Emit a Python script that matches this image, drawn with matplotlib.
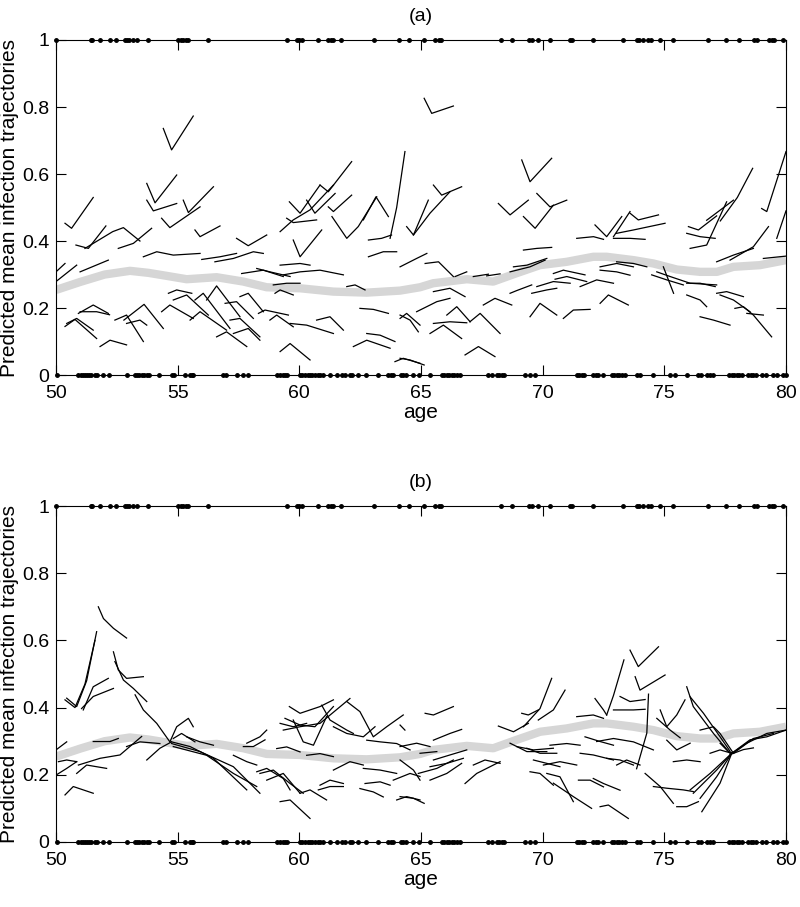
import matplotlib
matplotlib.use("Agg")
import matplotlib.pyplot as plt

plt.rcParams['font.family'] = ['Liberation Sans Narrow', 'Liberation Sans', 'DejaVu Sans']

# observed infection status (ages of 0 and 1 responses)
ages_one = [50.0, 51.42, 51.5, 51.81, 52.22, 52.47, 52.84, 52.93, 53.01, 53.15, 53.34, 53.79,
            55.03, 55.13, 55.23, 55.33, 55.42, 56.26, 59.5, 59.89, 60.0, 60.1, 60.78, 61.19,
            61.29, 61.4, 61.71, 63.07, 64.11, 64.52, 65.14, 65.58, 65.72, 65.83, 68.29, 68.73,
            69.44, 69.55, 69.82, 70.3, 71.13, 71.22, 72.08, 73.32, 73.86, 73.96, 74.14, 74.34,
            74.45, 74.81, 75.37, 76.78, 77.52, 78.07, 78.7, 78.8, 79.3, 79.41, 79.52, 79.89]
ages_zero = [50.05, 50.92, 51.01, 51.1, 51.18, 51.26, 51.34, 51.42, 51.6, 51.67, 51.92, 52.19,
             52.93, 53.25, 53.34, 53.42, 53.52, 53.62, 53.73, 53.84, 54.25, 54.75, 54.85, 55.3,
             55.5, 55.58, 55.64, 56.88, 56.99, 57.43, 57.67, 57.9, 59.1, 59.2, 59.32, 59.41,
             59.5, 60.03, 60.12, 60.23, 60.34, 60.44, 60.53, 60.64, 60.75, 60.85, 60.99, 61.26,
             61.53, 61.74, 61.88, 62.08, 62.18, 62.42, 62.73, 63.25, 63.66, 63.77, 63.86, 64.18,
             64.27, 64.37, 64.69, 64.92, 65.37, 65.85, 65.96, 66.06, 66.15, 66.26, 66.37, 66.47,
             66.6, 67.77, 67.91, 68.11, 68.21, 68.32, 68.41, 69.27, 69.48, 69.69, 71.4, 71.51,
             71.61, 71.7, 72.08, 72.19, 72.29, 72.47, 72.84, 72.93, 73.04, 73.15, 73.25, 73.38,
             73.86, 74.0, 74.55, 75.23, 75.44, 75.92, 76.4, 76.5, 76.77, 76.88, 76.99, 77.67,
             77.77, 77.87, 77.98, 78.08, 78.18, 78.45, 78.55, 78.66, 78.76, 79.0, 79.18, 79.48,
             79.65, 79.89, 80.0]

# population mean curve
mean_age = [50.0, 51.0, 52.0, 53.04, 53.8, 54.55, 55.37, 56.6, 57.7, 58.66, 60.03, 61.4, 62.77,
            64.14, 64.96, 65.5, 66.88, 67.97, 68.93, 69.89, 70.99, 72.08, 72.63, 73.73, 74.55,
            75.51, 76.47, 77.16, 77.84, 78.93, 80.0]
mean_val = [0.254, 0.278, 0.300, 0.311, 0.305, 0.296, 0.286, 0.292, 0.279, 0.262, 0.259, 0.249,
            0.246, 0.252, 0.262, 0.274, 0.286, 0.279, 0.304, 0.328, 0.338, 0.353, 0.353, 0.343,
            0.333, 0.315, 0.308, 0.308, 0.323, 0.328, 0.343]

# subject-specific predicted trajectories, panel (a)
traj_a = [
    [(54.41, 0.736), (54.75, 0.672), (55.64, 0.773)],
    [(50.37, 0.453), (50.64, 0.438), (51.53, 0.530)],
    [(53.73, 0.572), (54.07, 0.514), (54.96, 0.597)],
    [(53.73, 0.522), (54.00, 0.490), (54.96, 0.512)],
    [(54.34, 0.468), (54.68, 0.440), (55.92, 0.502)],
    [(55.23, 0.522), (55.44, 0.485), (56.47, 0.562)],
    [(55.71, 0.433), (55.92, 0.413), (56.74, 0.445)],
    [(50.82, 0.388), (51.33, 0.378), (52.05, 0.445)],
    [(51.19, 0.378), (52.33, 0.428), (52.77, 0.440), (53.45, 0.400)],
    [(52.56, 0.378), (53.18, 0.393), (53.93, 0.438)],
    [(53.59, 0.353), (54.14, 0.368), (54.82, 0.358), (55.92, 0.363)],
    [(50.99, 0.308), (52.15, 0.343)],
    [(50.00, 0.279), (50.85, 0.328)],
    [(50.00, 0.308), (50.37, 0.333)],
    [(55.99, 0.345), (56.74, 0.353), (57.42, 0.363)],
    [(56.53, 0.338), (57.29, 0.348), (58.11, 0.368), (58.52, 0.363)],
    [(57.42, 0.408), (57.90, 0.386), (58.66, 0.418)],
    [(57.63, 0.303), (58.52, 0.313), (59.34, 0.294)],
    [(58.25, 0.318), (58.79, 0.308), (59.62, 0.294)],
    [(59.21, 0.328), (60.03, 0.333), (60.44, 0.328)],
    [(59.34, 0.299), (60.03, 0.308), (60.85, 0.313), (61.81, 0.299)],
    [(59.59, 0.517), (60.03, 0.483), (60.85, 0.567)],
    [(59.48, 0.468), (59.75, 0.455), (60.71, 0.463)],
    [(59.21, 0.428), (59.75, 0.463), (60.44, 0.493), (61.40, 0.567)],
    [(59.75, 0.403), (60.03, 0.353), (60.92, 0.433)],
    [(60.30, 0.522), (60.64, 0.483), (61.47, 0.542)],
    [(60.85, 0.567), (61.19, 0.547), (62.15, 0.637)],
    [(61.19, 0.502), (61.40, 0.488), (62.15, 0.537)],
    [(61.34, 0.473), (61.95, 0.408), (62.42, 0.443), (63.18, 0.532)],
    [(62.63, 0.463), (63.15, 0.532), (63.66, 0.473)],
    [(63.73, 0.408), (64.00, 0.500), (64.34, 0.667)],
    [(62.84, 0.403), (63.38, 0.408), (63.79, 0.418)],
    [(62.84, 0.353), (63.45, 0.368), (64.00, 0.368)],
    [(50.37, 0.145), (50.78, 0.166), (51.67, 0.109)],
    [(50.44, 0.154), (50.85, 0.169), (51.53, 0.134)],
    [(50.92, 0.184), (51.53, 0.209), (52.15, 0.184)],
    [(50.99, 0.189), (51.67, 0.189), (52.20, 0.180)],
    [(51.81, 0.085), (52.22, 0.104), (52.90, 0.090)],
    [(52.42, 0.164), (52.90, 0.179), (53.59, 0.100)],
    [(52.90, 0.154), (53.45, 0.164), (53.73, 0.149)],
    [(52.79, 0.164), (53.62, 0.211), (54.41, 0.139)],
    [(54.34, 0.189), (54.68, 0.209), (55.64, 0.169)],
    [(54.62, 0.244), (54.96, 0.254), (55.58, 0.244)],
    [(54.82, 0.224), (55.37, 0.239), (56.26, 0.179)],
    [(55.51, 0.164), (55.92, 0.189), (57.01, 0.134)],
    [(55.71, 0.224), (56.05, 0.244), (57.15, 0.139)],
    [(56.19, 0.224), (56.60, 0.266), (57.56, 0.174)],
    [(56.60, 0.114), (57.01, 0.129), (57.84, 0.085)],
    [(56.95, 0.214), (57.42, 0.219), (58.11, 0.169)],
    [(57.15, 0.164), (57.56, 0.169), (58.38, 0.114)],
    [(57.29, 0.124), (57.90, 0.139), (58.38, 0.104)],
    [(57.56, 0.234), (57.90, 0.244), (58.52, 0.189)],
    [(58.32, 0.184), (58.59, 0.194), (59.55, 0.179)],
    [(58.79, 0.164), (59.07, 0.179), (59.75, 0.144)],
    [(59.21, 0.070), (59.62, 0.094), (60.44, 0.045)],
    [(59.00, 0.244), (59.21, 0.254), (59.75, 0.239)],
    [(58.93, 0.269), (59.48, 0.274), (60.03, 0.274)],
    [(59.62, 0.154), (60.30, 0.149), (61.40, 0.124)],
    [(60.71, 0.164), (61.26, 0.174), (61.81, 0.134)],
    [(62.22, 0.085), (62.77, 0.104), (63.73, 0.080)],
    [(62.77, 0.124), (63.32, 0.119), (63.93, 0.100)],
    [(63.93, 0.040), (64.27, 0.050), (64.96, 0.035)],
    [(64.14, 0.169), (64.41, 0.184), (64.96, 0.149)],
    [(62.49, 0.199), (63.04, 0.196), (63.66, 0.184)],
    [(61.95, 0.264), (62.29, 0.269), (62.70, 0.254)],
    [(65.13, 0.826), (65.44, 0.781), (66.33, 0.803)],
    [(69.14, 0.642), (69.48, 0.577), (70.37, 0.647)],
    [(68.18, 0.512), (68.66, 0.478), (69.41, 0.522)],
    [(69.76, 0.542), (70.30, 0.502), (70.99, 0.522)],
    [(69.21, 0.473), (69.69, 0.438), (70.44, 0.507)],
    [(65.51, 0.567), (65.85, 0.537), (66.67, 0.562)],
    [(64.41, 0.443), (64.69, 0.418), (65.30, 0.522)],
    [(64.69, 0.418), (65.37, 0.483), (66.19, 0.547)],
    [(64.14, 0.323), (64.82, 0.348), (65.24, 0.363)],
    [(65.17, 0.333), (65.72, 0.338), (66.33, 0.294)],
    [(66.40, 0.294), (66.88, 0.308)],
    [(71.40, 0.408), (72.09, 0.413), (72.50, 0.405)],
    [(72.15, 0.448), (72.63, 0.413), (73.25, 0.473)],
    [(72.91, 0.413), (73.59, 0.488)],
    [(73.59, 0.483), (73.93, 0.463), (74.76, 0.478)],
    [(73.04, 0.423), (73.73, 0.433), (75.03, 0.453)],
    [(72.91, 0.408), (73.59, 0.408), (74.21, 0.405)],
    [(75.99, 0.443), (76.40, 0.433), (77.15, 0.475)],
    [(75.92, 0.423), (76.47, 0.413), (77.09, 0.408)],
    [(76.06, 0.378), (76.74, 0.388), (77.56, 0.517)],
    [(76.74, 0.462), (77.84, 0.522)],
    [(77.15, 0.338), (77.84, 0.358), (78.66, 0.378)],
    [(77.70, 0.343), (78.66, 0.383), (79.28, 0.443)],
    [(77.30, 0.460), (78.00, 0.530), (78.63, 0.617)],
    [(79.00, 0.497), (79.21, 0.488), (80.00, 0.667)],
    [(79.62, 0.408), (80.00, 0.490)],
    [(79.07, 0.348), (80.00, 0.355)],
    [(68.80, 0.323), (69.35, 0.328), (70.17, 0.348)],
    [(68.66, 0.308), (69.48, 0.323), (70.10, 0.343)],
    [(69.21, 0.373), (69.76, 0.378), (70.37, 0.381)],
    [(67.70, 0.296), (68.25, 0.302)],
    [(67.15, 0.294), (67.77, 0.301)],
    [(70.44, 0.303), (70.85, 0.313), (71.74, 0.299)],
    [(70.51, 0.286), (70.99, 0.294), (71.81, 0.279)],
    [(71.54, 0.264), (72.22, 0.284), (72.91, 0.274)],
    [(72.36, 0.313), (73.04, 0.308), (73.59, 0.298)],
    [(72.36, 0.323), (73.04, 0.333), (73.73, 0.323)],
    [(73.04, 0.338), (73.73, 0.333), (74.28, 0.323)],
    [(68.66, 0.244), (68.93, 0.252), (69.55, 0.269)],
    [(69.55, 0.244), (70.17, 0.254), (70.58, 0.259)],
    [(69.76, 0.264), (70.44, 0.279), (71.13, 0.274)],
    [(74.48, 0.299), (75.10, 0.284), (75.78, 0.269)],
    [(74.69, 0.308), (75.24, 0.294), (76.06, 0.274), (77.15, 0.269)],
    [(74.96, 0.323), (75.38, 0.244)],
    [(75.92, 0.274), (76.47, 0.274), (77.09, 0.264)],
    [(75.92, 0.239), (76.47, 0.224), (76.74, 0.204)],
    [(77.15, 0.244), (77.56, 0.249), (78.25, 0.234)],
    [(77.29, 0.239), (77.84, 0.224), (78.52, 0.189)],
    [(76.47, 0.174), (77.02, 0.164), (77.70, 0.149)],
    [(77.90, 0.199), (78.25, 0.204), (78.66, 0.179), (79.41, 0.114)],
    [(78.39, 0.184), (79.07, 0.179)],
    [(69.48, 0.174), (69.89, 0.214), (70.58, 0.179)],
    [(70.85, 0.169), (71.26, 0.194), (71.95, 0.196)],
    [(72.36, 0.214), (72.70, 0.239), (73.52, 0.209)],
    [(67.56, 0.209), (68.04, 0.229), (68.73, 0.209)],
    [(66.81, 0.060), (67.36, 0.085), (68.04, 0.055)],
    [(67.01, 0.159), (67.43, 0.184), (68.25, 0.124)],
    [(65.37, 0.124), (65.92, 0.149), (66.67, 0.109)],
    [(65.51, 0.154), (66.19, 0.159), (66.88, 0.156)],
    [(66.06, 0.179), (66.47, 0.204), (67.02, 0.159)],
    [(64.82, 0.189), (65.65, 0.219), (66.19, 0.229)],
    [(65.51, 0.249), (66.19, 0.259), (66.81, 0.234)],
    [(64.14, 0.179), (64.55, 0.164), (64.89, 0.129)],
    [(64.14, 0.050), (64.55, 0.045), (65.13, 0.030)],
]

# subject-specific predicted trajectories, panel (b)
traj_b = [
    [(51.74, 0.700), (51.95, 0.665), (52.36, 0.636), (52.90, 0.607)],
    [(50.44, 0.428), (50.85, 0.403), (51.26, 0.480), (51.67, 0.626)],
    [(50.37, 0.423), (50.78, 0.400), (51.19, 0.470), (51.60, 0.600)],
    [(51.12, 0.393), (51.53, 0.462), (52.15, 0.487)],
    [(51.05, 0.397), (51.53, 0.433), (52.36, 0.457)],
    [(52.36, 0.566), (52.56, 0.512), (52.90, 0.487), (53.59, 0.492)],
    [(52.42, 0.537), (52.77, 0.482), (53.18, 0.457), (53.73, 0.418)],
    [(53.25, 0.438), (53.59, 0.393), (54.14, 0.353), (54.68, 0.298)],
    [(54.68, 0.298), (54.96, 0.343), (55.44, 0.368), (55.64, 0.343)],
    [(54.82, 0.308), (55.16, 0.323), (55.71, 0.298)],
    [(54.75, 0.298), (55.51, 0.284), (56.47, 0.249), (57.84, 0.155)],
    [(54.75, 0.293), (55.92, 0.269), (57.29, 0.224), (58.38, 0.145)],
    [(54.82, 0.284), (56.19, 0.258), (57.29, 0.204), (58.25, 0.165)],
    [(53.73, 0.244), (54.27, 0.279), (54.75, 0.298)],
    [(52.90, 0.284), (53.45, 0.298), (54.27, 0.293)],
    [(50.00, 0.274), (50.44, 0.298)],
    [(50.00, 0.199), (50.44, 0.219), (50.85, 0.239)],
    [(50.10, 0.239), (50.44, 0.244), (50.85, 0.239)],
    [(50.85, 0.204), (51.26, 0.229), (52.08, 0.219)],
    [(50.92, 0.229), (51.81, 0.249), (52.63, 0.259), (53.52, 0.314)],
    [(50.37, 0.140), (50.71, 0.165), (51.53, 0.145)],
    [(51.53, 0.299), (52.22, 0.299), (52.56, 0.308)],
    [(55.37, 0.313), (55.92, 0.298), (56.47, 0.288)],
    [(57.84, 0.294), (58.38, 0.313), (58.66, 0.333)],
    [(57.70, 0.284), (58.11, 0.284), (58.59, 0.304)],
    [(57.29, 0.258), (57.84, 0.239), (58.25, 0.229)],
    [(58.25, 0.209), (58.66, 0.219), (59.34, 0.189), (59.62, 0.155)],
    [(58.38, 0.204), (58.93, 0.214), (59.62, 0.174), (60.16, 0.145)],
    [(58.66, 0.184), (59.34, 0.204), (60.03, 0.145)],
    [(59.21, 0.120), (59.62, 0.125), (60.44, 0.070)],
    [(60.03, 0.145), (60.44, 0.155), (61.12, 0.125)],
    [(60.85, 0.169), (61.26, 0.184), (61.81, 0.174)],
    [(60.78, 0.155), (61.26, 0.165), (61.81, 0.165)],
    [(59.07, 0.278), (59.48, 0.283), (60.03, 0.268)],
    [(59.21, 0.353), (59.75, 0.343), (60.30, 0.353)],
    [(59.59, 0.403), (60.03, 0.383), (60.85, 0.403), (61.40, 0.423)],
    [(59.75, 0.363), (60.16, 0.298), (60.58, 0.288), (61.12, 0.373)],
    [(59.34, 0.333), (60.03, 0.343), (60.85, 0.353), (62.08, 0.427)],
    [(59.41, 0.368), (60.03, 0.348), (60.64, 0.343), (61.40, 0.403)],
    [(60.92, 0.407), (61.26, 0.363), (61.95, 0.333), (62.22, 0.323)],
    [(61.95, 0.418), (62.49, 0.388), (63.04, 0.313), (63.59, 0.343), (64.27, 0.378)],
    [(61.40, 0.343), (61.95, 0.323), (62.63, 0.313), (63.11, 0.343)],
    [(62.77, 0.303), (63.32, 0.298), (64.00, 0.293), (64.55, 0.274)],
    [(61.40, 0.214), (62.08, 0.239), (62.63, 0.229)],
    [(62.63, 0.219), (63.32, 0.214), (64.00, 0.204)],
    [(62.70, 0.174), (63.32, 0.179), (63.73, 0.169)],
    [(62.49, 0.159), (63.04, 0.149), (63.45, 0.134)],
    [(64.00, 0.125), (64.41, 0.135), (64.96, 0.125)],
    [(63.86, 0.184), (64.55, 0.204), (64.96, 0.195)],
    [(60.30, 0.258), (60.85, 0.263), (61.40, 0.254)],
    [(73.59, 0.571), (73.93, 0.522), (74.76, 0.581)],
    [(73.80, 0.492), (74.00, 0.452), (75.03, 0.497)],
    [(73.34, 0.542), (72.91, 0.436), (72.63, 0.378)],
    [(73.18, 0.433), (73.59, 0.418), (74.21, 0.424)],
    [(72.15, 0.427), (72.50, 0.393), (72.63, 0.378)],
    [(72.91, 0.393), (73.73, 0.393), (74.21, 0.395)],
    [(74.35, 0.440), (74.28, 0.324), (73.86, 0.218)],
    [(75.92, 0.462), (76.19, 0.403), (77.02, 0.323), (77.70, 0.264)],
    [(76.06, 0.432), (76.61, 0.383), (77.29, 0.313), (77.70, 0.270)],
    [(74.83, 0.393), (75.10, 0.343), (75.51, 0.378), (75.85, 0.423)],
    [(74.69, 0.368), (75.24, 0.333), (75.65, 0.310)],
    [(75.10, 0.303), (75.51, 0.274), (76.06, 0.294)],
    [(75.37, 0.239), (75.92, 0.244), (76.47, 0.239)],
    [(74.21, 0.204), (74.83, 0.165), (75.37, 0.115)],
    [(74.55, 0.165), (75.10, 0.160), (75.78, 0.155), (76.19, 0.150)],
    [(75.51, 0.105), (75.92, 0.105), (76.40, 0.120)],
    [(76.06, 0.155), (76.88, 0.204), (77.77, 0.264)],
    [(76.19, 0.145), (77.15, 0.214), (77.77, 0.264)],
    [(76.47, 0.130), (77.15, 0.194), (77.77, 0.264)],
    [(76.54, 0.090), (77.29, 0.175), (77.77, 0.264)],
    [(77.77, 0.264), (78.52, 0.304), (79.21, 0.313), (80.00, 0.333)],
    [(77.77, 0.264), (78.39, 0.294), (79.21, 0.323), (80.00, 0.333)],
    [(77.70, 0.260), (78.25, 0.275), (78.66, 0.280)],
    [(77.84, 0.264), (78.66, 0.308), (79.48, 0.323)],
    [(76.88, 0.264), (77.29, 0.274), (77.77, 0.264)],
    [(77.29, 0.294), (77.63, 0.269), (77.84, 0.264)],
    [(76.47, 0.333), (77.02, 0.343), (77.29, 0.323), (77.84, 0.264)],
    [(71.40, 0.373), (72.08, 0.378), (72.50, 0.368)],
    [(72.22, 0.299), (72.91, 0.308), (73.73, 0.298), (74.55, 0.274)],
    [(71.74, 0.313), (72.36, 0.299), (72.91, 0.288)],
    [(71.54, 0.264), (72.08, 0.259), (72.91, 0.244)],
    [(72.63, 0.249), (73.18, 0.244), (73.73, 0.229)],
    [(73.04, 0.229), (73.45, 0.244), (74.00, 0.229)],
    [(71.47, 0.184), (71.95, 0.184), (72.50, 0.164)],
    [(72.08, 0.189), (72.50, 0.174), (73.18, 0.154)],
    [(72.36, 0.105), (72.70, 0.110), (73.52, 0.070)],
    [(70.44, 0.175), (71.26, 0.135), (72.01, 0.100)],
    [(69.48, 0.209), (69.89, 0.204), (70.44, 0.169)],
    [(70.17, 0.204), (70.71, 0.194), (71.26, 0.120)],
    [(69.14, 0.383), (69.41, 0.378), (69.82, 0.393)],
    [(69.21, 0.343), (69.89, 0.397), (70.37, 0.487)],
    [(69.82, 0.363), (70.44, 0.393), (70.92, 0.452)],
    [(68.18, 0.345), (68.80, 0.328), (69.41, 0.353)],
    [(68.66, 0.294), (69.35, 0.269), (70.17, 0.269)],
    [(68.93, 0.284), (69.62, 0.274), (70.44, 0.279)],
    [(69.35, 0.279), (69.89, 0.264), (70.58, 0.264)],
    [(69.62, 0.244), (70.17, 0.234), (70.71, 0.224)],
    [(70.03, 0.229), (70.71, 0.239), (71.40, 0.229)],
    [(70.30, 0.288), (70.99, 0.293), (71.54, 0.288)],
    [(66.81, 0.174), (67.29, 0.204), (68.25, 0.239)],
    [(67.15, 0.229), (67.63, 0.244), (68.25, 0.234)],
    [(65.37, 0.184), (66.06, 0.204), (66.67, 0.234)],
    [(64.89, 0.204), (65.65, 0.219), (66.33, 0.244)],
    [(65.37, 0.224), (66.06, 0.234), (66.74, 0.249)],
    [(65.51, 0.244), (66.19, 0.259), (66.88, 0.274)],
    [(65.17, 0.383), (65.51, 0.378), (66.33, 0.403)],
    [(65.51, 0.303), (66.19, 0.323), (66.67, 0.335)],
    [(64.14, 0.348), (64.34, 0.333)],
    [(64.14, 0.244), (64.69, 0.214), (64.96, 0.184)],
    [(64.14, 0.135), (64.69, 0.130), (65.13, 0.115)],
    [(64.14, 0.284), (64.82, 0.294), (65.37, 0.284)],
    [(64.96, 0.264), (65.65, 0.269)],
]

fig = plt.figure(figsize=(8, 9.07), dpi=100)
ax_a = fig.add_axes([0.07, 0.5865, 0.9125, 0.3694])
ax_b = fig.add_axes([0.07, 0.0717, 0.9125, 0.3704])

for ax, trajs, title in [(ax_a, traj_a, '(a)'), (ax_b, traj_b, '(b)')]:
    ax.plot(mean_age, mean_val, color='#d6d6d6', linewidth=6, solid_capstyle='butt', zorder=1)
    for tr in trajs:
        xs = [p[0] for p in tr]
        ys = [p[1] for p in tr]
        ax.plot(xs, ys, color='black', linewidth=0.9, zorder=2)
    ax.plot(ages_one, [1] * len(ages_one), 'k.', markersize=5, clip_on=False, zorder=3)
    ax.plot(ages_zero, [0] * len(ages_zero), 'k.', markersize=5, clip_on=False, zorder=3)

    ax.set_xlim(50, 80)
    ax.set_ylim(0, 1)
    ax.set_xticks([50, 55, 60, 65, 70, 75, 80])
    ax.set_yticks([0, 0.2, 0.4, 0.6, 0.8, 1])
    ax.set_yticklabels(['0', '0.2', '0.4', '0.6', '0.8', '1'])
    ax.tick_params(direction='in', top=True, right=True, length=7, width=0.8, labelsize=14)
    ax.tick_params(axis='x', pad=7)
    ax.tick_params(axis='y', pad=5)
    for s in ax.spines.values():
        s.set_linewidth(0.8)
    ax.set_xlabel('age', fontsize=15, labelpad=1)
    ax.set_ylabel('Predicted mean infection trajectories', fontsize=15, labelpad=2)
    ax.set_title(title, fontsize=14, pad=14)

fig.savefig('out.png', dpi=100)
